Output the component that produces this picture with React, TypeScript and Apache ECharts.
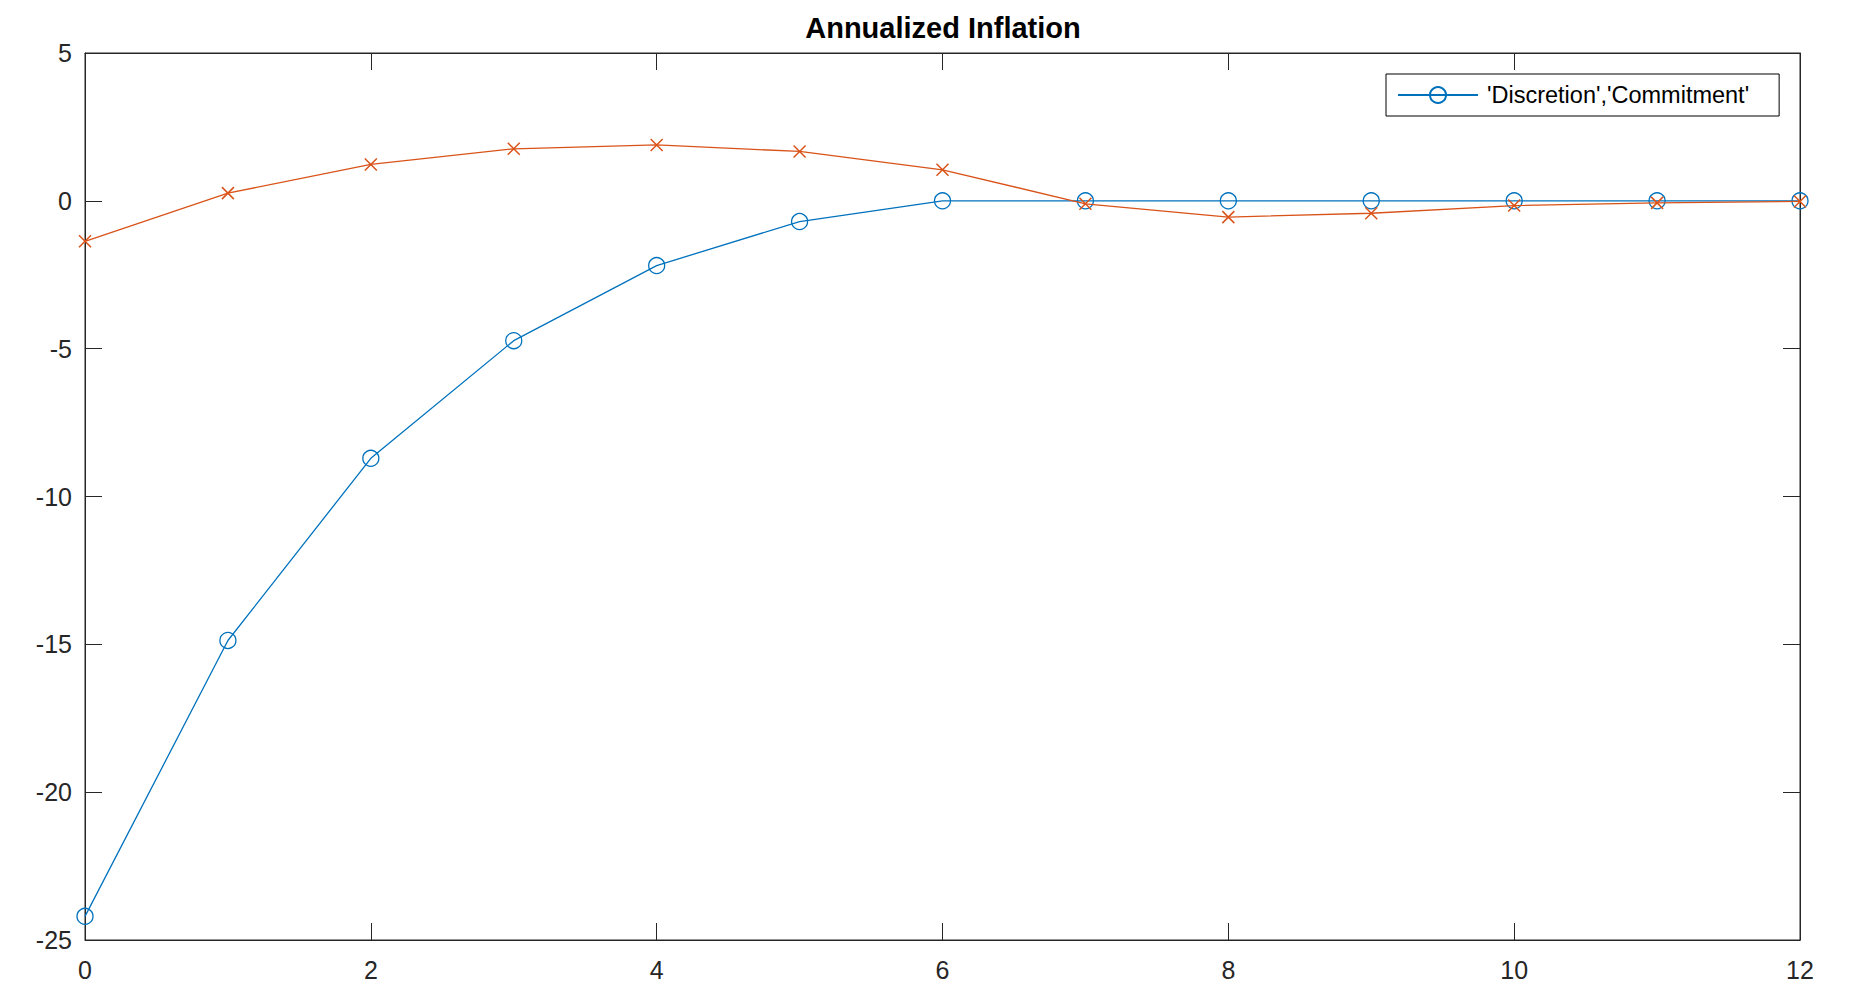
import React, { useEffect, useRef } from "react";
import * as echarts from "echarts";

const periods = [0, 1, 2, 3, 4, 5, 6, 7, 8, 9, 10, 11, 12];
const discretion = [-24.2, -14.87, -8.71, -4.73, -2.19, -0.7, 0, 0, 0, 0, 0, 0, 0];
const commitment = [-1.37, 0.26, 1.23, 1.76, 1.89, 1.67, 1.05, -0.1, -0.55, -0.42, -0.16, -0.07, -0.02];
const legendLabel = "'Discretion','Commitment'";
const titleText = "Annualized Inflation";

const FONT = "'Liberation Sans', Arial, Helvetica, sans-serif";
const AXIS = "#262626";

export default function App() {
  const ref = useRef<HTMLDivElement>(null);
  useEffect(() => {
    document.body.style.margin = "0";
    const chart = echarts.init(ref.current!, null, { renderer: "svg" });
    const tickCommon = { show: true, inside: true, length: 17, lineStyle: { color: AXIS, width: 1 } };
    const lineCommon = { show: true, onZero: false, lineStyle: { color: AXIS, width: 1 } };
    chart.setOption({
      animation: false,
      backgroundColor: "#fff",
      textStyle: { fontFamily: FONT },
      title: {
        text: titleText,
        left: 938,
        textAlign: "center",
        top: 8,
        textStyle: { fontFamily: FONT, fontSize: 29, fontWeight: "bold", color: "#000" },
      },
      legend: {
        data: [{ name: legendLabel }],
        left: 1386,
        top: 74,
        orient: "vertical",
        itemWidth: 80,
        itemHeight: 20,
        padding: [9, 30, 9, 11],
        borderColor: "#000",
        borderWidth: 1,
        backgroundColor: "#fff",
        borderRadius: 0,
        textStyle: { fontFamily: FONT, fontSize: 23.5, color: "#000", padding: [0, 0, 0, 4] },
      },
      grid: {
        left: 85,
        right: 64,
        top: 53,
        bottom: 53,
        show: true,
        borderColor: AXIS,
        borderWidth: 1,
        backgroundColor: "transparent",
      },
      xAxis: [
        {
          type: "value",
          min: 0,
          max: 12,
          interval: 2,
          position: "bottom",
          axisLine: lineCommon,
          axisTick: tickCommon,
          splitLine: { show: false },
          axisLabel: { color: AXIS, fontSize: 25, fontFamily: FONT, margin: 17 },
        },
        {
          type: "value",
          min: 0,
          max: 12,
          interval: 2,
          position: "top",
          axisLine: lineCommon,
          axisTick: tickCommon,
          splitLine: { show: false },
          axisLabel: { show: false },
        },
      ],
      yAxis: [
        {
          type: "value",
          min: -25,
          max: 5,
          interval: 5,
          position: "left",
          axisLine: lineCommon,
          axisTick: tickCommon,
          splitLine: { show: false },
          axisLabel: { color: AXIS, fontSize: 25, fontFamily: FONT, margin: 13 },
        },
        {
          type: "value",
          min: -25,
          max: 5,
          interval: 5,
          position: "right",
          axisLine: lineCommon,
          axisTick: tickCommon,
          splitLine: { show: false },
          axisLabel: { show: false },
        },
      ],
      series: [
        {
          name: legendLabel,
          type: "line",
          xAxisIndex: 0,
          yAxisIndex: 0,
          data: periods.map((p, i) => [p, discretion[i]]),
          symbol: "circle",
          symbolSize: 16,
          showAllSymbol: true,
          lineStyle: { color: "#0072BD", width: 1.3 },
          itemStyle: { color: "transparent", borderColor: "#0072BD", borderWidth: 1.3 },
          z: 2,
        },
        {
          name: "Commitment",
          type: "line",
          xAxisIndex: 0,
          yAxisIndex: 0,
          data: periods.map((p, i) => [p, commitment[i]]),
          symbol: "path://M0,0L10,10M10,0L0,10",
          symbolSize: 12,
          showAllSymbol: true,
          lineStyle: { color: "#D95319", width: 1.3 },
          itemStyle: { color: "transparent", borderColor: "#D95319", borderWidth: 1.5 },
          z: 3,
        },
      ],
    });
    return () => chart.dispose();
  }, []);
  return (
    <div
      ref={ref}
      style={{ position: "fixed", left: 0, top: 0, width: 1864, height: 993 }}
    />
  );
}
